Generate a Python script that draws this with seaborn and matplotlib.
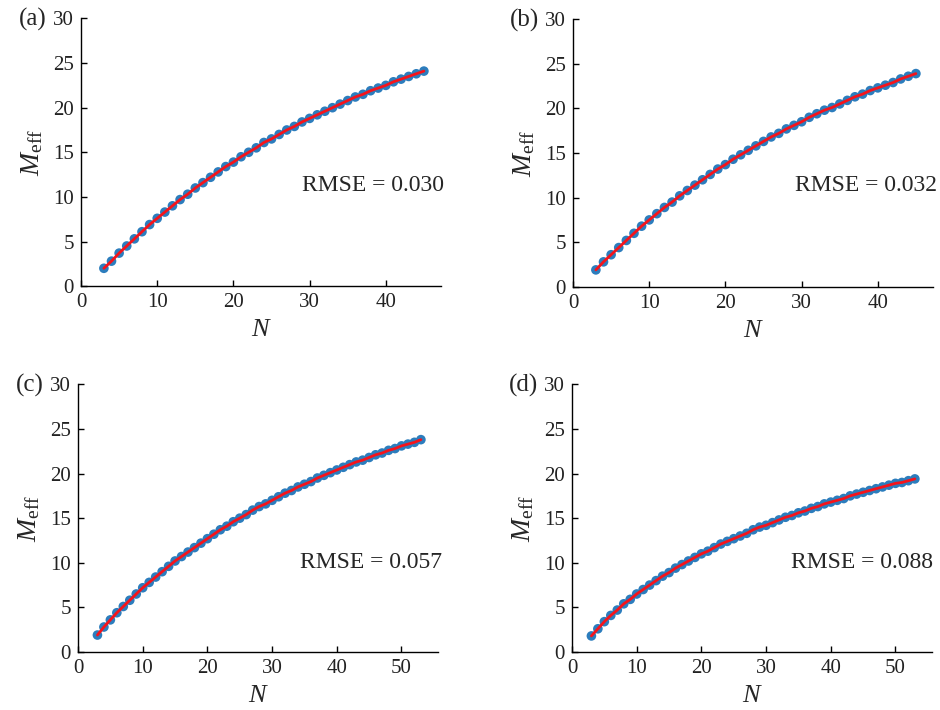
import numpy as np
import pandas as pd
import seaborn as sns
import matplotlib
matplotlib.use("Agg")
import matplotlib.pyplot as plt

# N values for each panel
n_ab = list(range(3, 46))
n_cd = list(range(3, 54))

# M_eff
m_a = [2.0, 2.8, 3.7, 4.5, 5.3, 6.1, 6.9, 7.6, 8.3, 9.0, 9.7, 10.3, 11.0, 11.6,
       12.2, 12.8, 13.4, 13.9, 14.5, 15.0, 15.5, 16.1, 16.5, 17.0, 17.5, 17.9,
       18.4, 18.8, 19.2, 19.6, 20.0, 20.4, 20.8, 21.2, 21.5, 21.9, 22.2, 22.5,
       22.9, 23.2, 23.5, 23.8, 24.1]
m_b = [1.9, 2.8, 3.6, 4.4, 5.2, 6.0, 6.8, 7.5, 8.2, 8.9, 9.5, 10.2, 10.8, 11.4,
       12.0, 12.6, 13.2, 13.7, 14.3, 14.8, 15.3, 15.8, 16.3, 16.8, 17.2, 17.7,
       18.1, 18.5, 19.0, 19.4, 19.8, 20.1, 20.5, 20.9, 21.3, 21.6, 22.0, 22.3,
       22.6, 22.9, 23.3, 23.6, 23.9]
m_c = [1.9, 2.8, 3.6, 4.4, 5.1, 5.8, 6.5, 7.2, 7.8, 8.4, 9.0, 9.6, 10.2, 10.7,
       11.2, 11.7, 12.2, 12.7, 13.2, 13.7, 14.1, 14.6, 15.0, 15.4, 15.9, 16.3,
       16.6, 17.0, 17.4, 17.8, 18.1, 18.5, 18.8, 19.1, 19.5, 19.8, 20.1, 20.4,
       20.7, 21.0, 21.3, 21.5, 21.8, 22.1, 22.3, 22.6, 22.8, 23.1, 23.3, 23.5,
       23.8]
m_d = [1.8, 2.6, 3.4, 4.1, 4.7, 5.4, 5.9, 6.5, 7.0, 7.5, 8.0, 8.5, 8.9, 9.4,
       9.8, 10.2, 10.6, 11.0, 11.3, 11.7, 12.1, 12.4, 12.7, 13.0, 13.3, 13.7,
       14.0, 14.2, 14.5, 14.8, 15.1, 15.3, 15.6, 15.8, 16.1, 16.3, 16.6, 16.8,
       17.0, 17.2, 17.5, 17.7, 17.9, 18.1, 18.3, 18.5, 18.7, 18.9, 19.0, 19.2,
       19.4]

labels = ["(a)", "(b)", "(c)", "(d)"]
rmse = ["RMSE = 0.030", "RMSE = 0.032", "RMSE = 0.057", "RMSE = 0.088"]

sns.set_style("ticks")
plt.rcParams["font.family"] = ["Liberation Serif", "DejaVu Serif"]
plt.rcParams["mathtext.fontset"] = "custom"
plt.rcParams["mathtext.rm"] = "Liberation Serif"
plt.rcParams["mathtext.it"] = "Liberation Serif:italic"

fig = plt.figure(figsize=(9.4, 7.1), dpi=100)

# [left, bottom, width, height] per panel
boxes = [[0.0862, 0.597, 0.383, 0.377],
         [0.6096, 0.596, 0.383, 0.377],
         [0.083, 0.0817, 0.383, 0.377],
         [0.6085, 0.0817, 0.383, 0.377]]
xs = [n_ab, n_ab, n_cd, n_cd]
ys = [m_a, m_b, m_c, m_d]
xmax = [47.25, 47.25, 55.65, 55.65]
xticks = [[0, 10, 20, 30, 40], [0, 10, 20, 30, 40],
          [0, 10, 20, 30, 40, 50], [0, 10, 20, 30, 40, 50]]
rmse_pos = [(1.008, 0.377), (1.011, 0.38), (1.011, 0.336), (1.003, 0.336)]

for i in range(4):
    ax = fig.add_axes(boxes[i])
    df = pd.DataFrame({"N": xs[i], "M": ys[i]})
    sns.scatterplot(data=df, x="N", y="M", ax=ax, color="#2c7dbd", s=48,
                    edgecolor="none", zorder=2)
    sns.lineplot(data=df, x="N", y="M", ax=ax, color="#f5141b", lw=2,
                 zorder=3)
    ax.set_xlim(0, xmax[i])
    ax.set_ylim(0, 30)
    ax.set_xticks(xticks[i])
    ax.set_yticks([0, 5, 10, 15, 20, 25, 30])
    ax.tick_params(direction="in", labelsize=15, length=4, width=1,
                   colors="black", labelcolor="#222222", pad=5)
    sns.despine(ax=ax)
    for s in ["left", "bottom"]:
        ax.spines[s].set_linewidth(1)
        ax.spines[s].set_color("black")
    ax.set_xlabel(r"$N$", fontsize=19, labelpad=5)
    ax.set_ylabel(r"$M_{\mathrm{eff}}$", fontsize=20, labelpad=6)
    ax.text(rmse_pos[i][0], rmse_pos[i][1], rmse[i], transform=ax.transAxes,
            ha="right", va="center", fontsize=17)
    ax.text(-0.135, 0.995, labels[i], transform=ax.transAxes, ha="center",
            va="center", fontsize=18)

fig.savefig("out.png", dpi=100)
